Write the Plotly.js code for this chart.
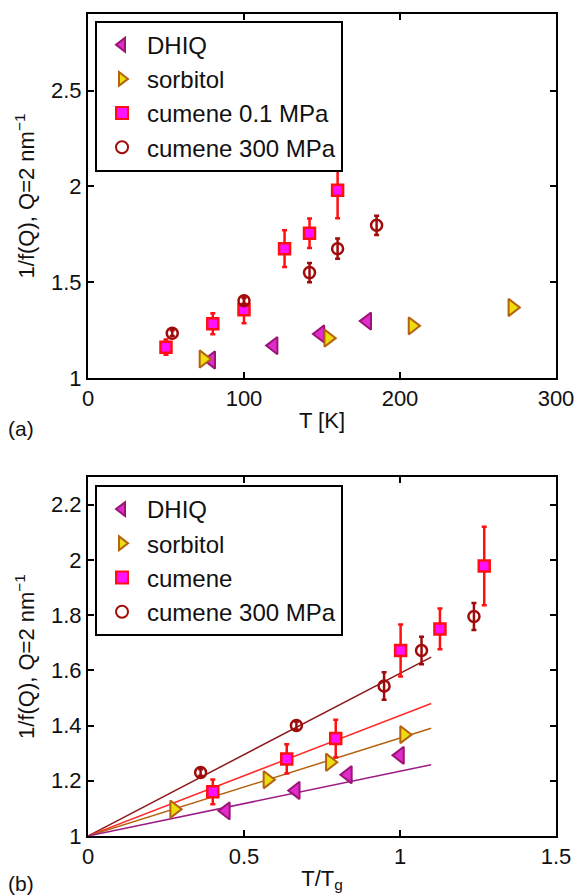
<!DOCTYPE html>
<html>
<head>
<meta charset="utf-8">
<script src="https://cdn.plot.ly/plotly-3.0.1.min.js"></script>
<style>html,body{margin:0;padding:0;background:#fff;}#chart{width:579px;height:896px;}</style>
</head>
<body>
<div id="chart"></div>
<script>
// ---- Panel (a): 1/f(Q) vs T [K] ----
const dhiqT = [79, 119, 149, 179];
const dhiqV = [1.094, 1.169, 1.23, 1.297];
const sorbT = [74, 154, 208, 272];
const sorbV = [1.099, 1.208, 1.272, 1.368];
const cum01T = [50, 80, 100, 126, 142, 160];
const cum01V = [1.161, 1.283, 1.356, 1.675, 1.755, 1.98];
const cum01Err = [0.04, 0.055, 0.07, 0.096, 0.077, 0.146];
const cum300T = [54, 100, 142, 160, 185];
const cum300V = [1.234, 1.403, 1.55, 1.675, 1.797];
const cum300Err = [0.015, 0.015, 0.05, 0.053, 0.05];

// ---- Panel (b): 1/f(Q) vs T/Tg ----
const dhiqX = [0.442, 0.666, 0.833, 1.0];
const dhiqY = [1.091, 1.165, 1.222, 1.292];
const sorbX = [0.276, 0.575, 0.775, 1.013];
const sorbY = [1.097, 1.204, 1.267, 1.367];
const cumX = [0.40, 0.637, 0.794, 1.002, 1.128, 1.27];
const cumY = [1.16, 1.279, 1.353, 1.672, 1.75, 1.978];
const cumErr = [0.045, 0.053, 0.068, 0.094, 0.074, 0.142];
const c300X = [0.361, 0.668, 0.949, 1.069, 1.237];
const c300Y = [1.23, 1.40, 1.543, 1.672, 1.795];
const c300Err = [0.012, 0.015, 0.05, 0.05, 0.049];

// linear fits through (0,1)
const fitX = [0, 1.1];
const fit300Y = [1, 1.648];
const fitCumY = [1, 1.48];
const fitSorbY = [1, 1.39];
const fitDhiqY = [1, 1.258];

const labelsA = ['DHIQ', 'sorbitol', 'cumene 0.1 MPa', 'cumene 300 MPa'];
const labelsB = ['DHIQ', 'sorbitol', 'cumene', 'cumene 300 MPa'];

const C = {
  dhiqEdge: '#9c1476', dhiqFill: '#e02ccc',
  sorbEdge: '#b4620e', sorbFill: '#ecdc10',
  cumEdge: '#ff1010', cumFill: '#ff10ff',
  c300: '#a00c0c',
  fit300: '#8c1818', fitCum: '#ff2a2a', fitSorb: '#b4620e', fitDhiq: '#9c1c86'
};
const FONT = 'Liberation Sans, Arial, Helvetica, sans-serif';

function sym(kind) {
  if (kind === 0) return {symbol: 'triangle-left', size: 15, color: C.dhiqFill, line: {color: C.dhiqEdge, width: 2}};
  if (kind === 1) return {symbol: 'triangle-right', size: 15, color: C.sorbFill, line: {color: C.sorbEdge, width: 2}};
  if (kind === 2) return {symbol: 'square', size: 11, color: C.cumFill, line: {color: C.cumEdge, width: 2.5}};
  return {symbol: 'circle-open', size: 11, color: C.c300, line: {color: C.c300, width: 2.5}};
}

function pts(x, y, err, kind, name, xa, ya, leg) {
  const t = {x: x, y: y, type: 'scatter', mode: 'markers', name: name,
    xaxis: xa, yaxis: ya, legend: leg, marker: sym(kind), cliponaxis: false};
  if (err) {
    t.error_y = {type: 'data', array: err, visible: true,
      color: kind === 2 ? C.cumEdge : C.c300, thickness: 2.5, width: 2.5};
  }
  return t;
}
function fit(y, color, xa, ya) {
  return {x: fitX, y: y, type: 'scatter', mode: 'lines', xaxis: xa, yaxis: ya,
    line: {color: color, width: 1.5}, showlegend: false, hoverinfo: 'skip'};
}

const data = [
  pts(dhiqT, dhiqV, null, 0, labelsA[0], 'x', 'y', 'legend'),
  pts(sorbT, sorbV, null, 1, labelsA[1], 'x', 'y', 'legend'),
  pts(cum01T, cum01V, cum01Err, 2, labelsA[2], 'x', 'y', 'legend'),
  pts(cum300T, cum300V, cum300Err, 3, labelsA[3], 'x', 'y', 'legend'),
  fit(fit300Y, C.fit300, 'x2', 'y2'),
  fit(fitCumY, C.fitCum, 'x2', 'y2'),
  fit(fitSorbY, C.fitSorb, 'x2', 'y2'),
  fit(fitDhiqY, C.fitDhiq, 'x2', 'y2'),
  pts(dhiqX, dhiqY, null, 0, labelsB[0], 'x2', 'y2', 'legend2'),
  pts(sorbX, sorbY, null, 1, labelsB[1], 'x2', 'y2', 'legend2'),
  pts(cumX, cumY, cumErr, 2, labelsB[2], 'x2', 'y2', 'legend2'),
  pts(c300X, c300Y, c300Err, 3, labelsB[3], 'x2', 'y2', 'legend2')
];

const axBase = {
  showgrid: false, zeroline: false, showline: true, linecolor: '#000', linewidth: 2,
  mirror: 'ticks', ticks: 'inside', ticklen: 6, tickwidth: 2, tickcolor: '#000',
  tickfont: {family: FONT, size: 22, color: '#111'}
};
function ax(extra) { return Object.assign({}, axBase, extra); }
const titleFont = {family: FONT, size: 22, color: '#111'};
const legBase = {
  bgcolor: '#fff', bordercolor: '#000', borderwidth: 2,
  font: {family: FONT, size: 24, color: '#111'}, xanchor: 'left', yanchor: 'top',
  tracegroupgap: 0, itemwidth: 40, itemsizing: 'constant'
};

const layout = {
  width: 579, height: 896,
  margin: {l: 88, r: 23, t: 14, b: 60},
  paper_bgcolor: '#fff', plot_bgcolor: '#fff',
  font: {family: FONT},
  xaxis: ax({domain: [0, 1], range: [0, 300], dtick: 100, anchor: 'y',
    title: {text: 'T [K]', font: titleFont, standoff: 2}}),
  yaxis: ax({domain: [0.5572, 1], range: [1, 2.9], dtick: 0.5, anchor: 'x',
    title: {text: '1/f(Q), Q=2 nm<sup>−1</sup>', font: titleFont, standoff: 10}}),
  xaxis2: ax({domain: [0, 1], range: [0, 1.5], dtick: 0.5, anchor: 'y2',
    title: {text: 'T/T<sub>g</sub>', font: titleFont, standoff: 2}}),
  yaxis2: ax({domain: [0, 0.4367], range: [1, 2.3], dtick: 0.2, anchor: 'x2',
    title: {text: '1/f(Q), Q=2 nm<sup>−1</sup>', font: titleFont, standoff: 10}}),
  legend: Object.assign({}, legBase, {x: 0.015, y: 0.992}),
  legend2: Object.assign({}, legBase, {x: 0.015, y: 0.427}),
  annotations: [
    {text: '(a)', xref: 'paper', yref: 'paper', x: -0.175, y: 0.496, xanchor: 'left', yanchor: 'middle',
      showarrow: false, font: {family: FONT, size: 21, color: '#111'}},
    {text: '(b)', xref: 'paper', yref: 'paper', x: -0.175, y: -0.058, xanchor: 'left', yanchor: 'middle',
      showarrow: false, font: {family: FONT, size: 21, color: '#111'}}
  ],
  showlegend: true
};

Plotly.newPlot('chart', data, layout, {displayModeBar: false, staticPlot: true});
</script>
</body>
</html>
